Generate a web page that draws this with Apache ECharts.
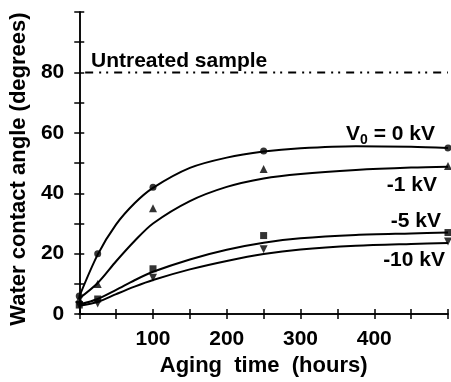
<!DOCTYPE html>
<html>
<head>
<meta charset="utf-8">
<script src="https://cdn.jsdelivr.net/npm/echarts@6/dist/echarts.min.js"></script>
<style>
  html, body { margin: 0; padding: 0; background: #fff; }
  #chart { width: 451px; height: 382px; }
</style>
</head>
<body>
<div id="chart"></div>
<script>
// measured points (aging time in hours, contact angle in degrees)
const hours = [0, 25, 100, 250, 500]
const angle0kV = [6, 20, 42, 54, 55]
const angle1kV = [5, 10, 35, 48, 49]
const angle5kV = [3, 5, 15, 26, 27]
const angle10kV = [3, 3.5, 12, 21.5, 24]

// fitted curves
const fitHours = [0, 25, 50, 75, 100, 150, 200, 250, 300, 375, 450, 500]
const fit0kV = [5.8, 19.7, 29.7, 36.7, 41.8, 48.4, 51.8, 53.8, 54.9, 55.6, 55.4, 55]
const fit1kV = [5.2, 10.3, 17.5, 24.2, 30, 37.4, 42.1, 44.9, 46.4, 47.7, 48.5, 48.8]
const fit5kV = [3.2, 5.0, 8.0, 11.2, 14, 18.1, 21.3, 23.6, 25.1, 26.2, 26.7, 27]
const fit10kV = [2.8, 4.0, 6.6, 9.1, 11.3, 14.8, 17.6, 19.9, 21.4, 22.6, 23.2, 23.5]

const untreatedAngle = 80
const untreatedRange = [8, 500]

const yTickLabels = [0, 20, 40, 60, 80]
const xTickLabels = [100, 200, 300, 400]

const font = "'Liberation Sans', Arial, sans-serif"
const black = '#000'

const chart = echarts.init(document.getElementById('chart'))

const pairs = (xs, ys) => xs.map((x, i) => [x, ys[i]])

const curve = (data) => ({
  type: 'line',
  data: pairs(fitHours, data),
  smooth: 0.3,
  symbol: 'none',
  lineStyle: { color: black, width: 2 },
  z: 3
})

const marks = (data, symbol, size) => ({
  type: 'scatter',
  data: pairs(hours, data),
  symbol: symbol,
  symbolSize: size,
  itemStyle: { color: black },
  z: 4
})

const tickStyle = { inside: true, length: 5, lineStyle: { color: black, width: 1.5 } }
const labelText = { fontFamily: font, fontWeight: 'bold', fontSize: 21, fill: black }

chart.setOption({
  animation: false,
  grid: { left: 79, right: 1, top: 12, bottom: 66 },
  xAxis: [
    {
      type: 'value',
      min: 0,
      max: 500,
      interval: 50,
      name: 'Aging  time  (hours)',
      nameLocation: 'middle',
      nameGap: 37,
      nameTextStyle: { fontFamily: font, fontWeight: 'bold', fontSize: 22, color: black },
      axisLine: { lineStyle: { color: black, width: 1.5 } },
      axisTick: tickStyle,
      axisLabel: {
        margin: 15,
        fontFamily: font,
        fontWeight: 'bold',
        fontSize: 21,
        color: black,
        formatter: v => xTickLabels.includes(v) ? String(v) : ''
      },
      splitLine: { show: false }
    },
    {
      type: 'value',
      position: 'top',
      min: 0,
      max: 500,
      interval: 50,
      axisLine: { show: true, lineStyle: { color: black, width: 1.5 } },
      axisTick: tickStyle,
      axisLabel: { show: false },
      splitLine: { show: false }
    }
  ],
  yAxis: [
    {
      type: 'value',
      min: 0,
      max: 100,
      interval: 10,
      name: 'Water contact angle (degrees)',
      nameLocation: 'middle',
      nameGap: 45,
      nameTextStyle: {
        fontFamily: font, fontWeight: 'bold', fontSize: 22, color: black,
        padding: [0, 12, 0, 0]
      },
      axisLine: { show: true, lineStyle: { color: black, width: 1.5 } },
      axisTick: tickStyle,
      axisLabel: {
        margin: 15,
        fontFamily: font,
        fontWeight: 'bold',
        fontSize: 21,
        color: black,
        formatter: v => yTickLabels.includes(v) ? String(v) : ''
      },
      splitLine: { show: false }
    },
    {
      type: 'value',
      position: 'right',
      min: 0,
      max: 100,
      interval: 10,
      axisLine: { show: true, lineStyle: { color: black, width: 1.5 } },
      axisTick: tickStyle,
      axisLabel: { show: false },
      splitLine: { show: false }
    }
  ],
  series: [
    {
      type: 'line',
      data: untreatedRange.map(x => [x, untreatedAngle]),
      symbol: 'none',
      lineStyle: { color: black, width: 2, type: [8, 6, 2, 5, 2, 6] },
      z: 2
    },
    curve(fit0kV),
    curve(fit1kV),
    curve(fit5kV),
    curve(fit10kV),
    marks(angle0kV, 'circle', 7),
    marks(angle1kV, 'triangle', 8),
    marks(angle5kV, 'rect', 7),
    marks(angle10kV, 'path://M0,0 L10,0 L5,9 Z', 8)
  ],
  graphic: [
    { type: 'text', left: 91, top: 51, style: Object.assign({ text: 'Untreated sample' }, labelText) },
    {
      type: 'text', right: 16, top: 124,
      style: {
        text: '{a|V}{s|0}{a| = 0 kV}',
        rich: {
          a: { fontFamily: font, fontWeight: 'bold', fontSize: 21, color: black },
          s: { fontFamily: font, fontWeight: 'bold', fontSize: 14, color: black, padding: [12, 0, 0, 0] }
        }
      }
    },
    { type: 'text', right: 14, top: 175, style: Object.assign({ text: '-1 kV' }, labelText) },
    { type: 'text', right: 10, top: 211, style: Object.assign({ text: '-5 kV' }, labelText) },
    { type: 'text', right: 6, top: 250, style: Object.assign({ text: '-10 kV' }, labelText) }
  ]
})
</script>
</body>
</html>
